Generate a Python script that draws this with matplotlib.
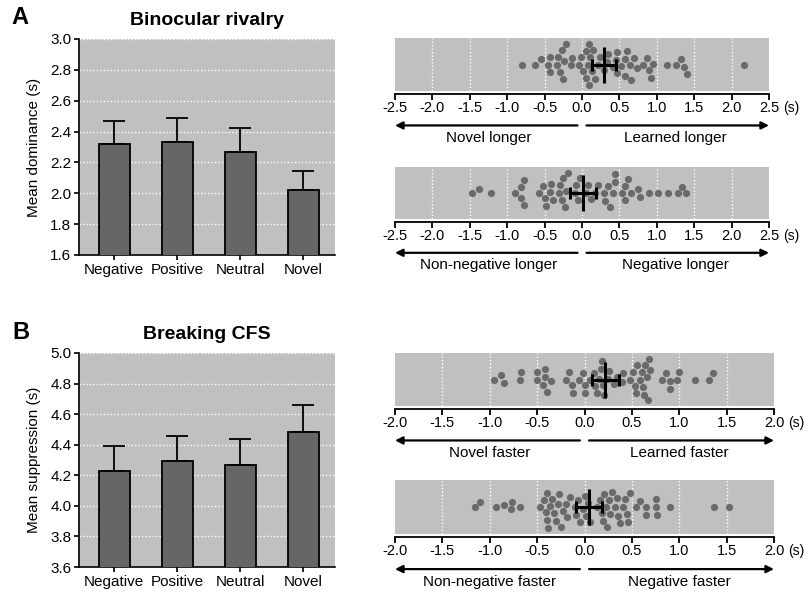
import numpy as np
import matplotlib
matplotlib.use("Agg")
import matplotlib.pyplot as plt

plt.rcParams['font.family'] = ['Liberation Sans', 'DejaVu Sans']

# ---------------- data ----------------
categories = ["Negative", "Positive", "Neutral", "Novel"]
dominance_mean = [2.32, 2.335, 2.27, 2.02]
dominance_sem = [0.15, 0.155, 0.15, 0.125]
suppression_mean = [4.225, 4.295, 4.265, 4.485]
suppression_sem = [0.165, 0.165, 0.17, 0.175]

rivalry_learned = [-0.80, -0.63, -0.55, -0.46, -0.43, -0.43, -0.33, -0.32, -0.29, -0.27,
                   -0.25, -0.24, -0.21, -0.15, -0.13, -0.04, -0.01, 0.02, 0.05, 0.06,
                   0.08, 0.09, 0.10, 0.11, 0.13, 0.15, 0.17, 0.22, 0.24, 0.30, 0.33,
                   0.35, 0.41, 0.45, 0.47, 0.47, 0.52, 0.57, 0.57, 0.60, 0.64, 0.66,
                   0.70, 0.73, 0.82, 0.87, 0.89, 0.92, 0.95, 1.13, 1.25, 1.33, 1.36,
                   1.41, 2.17]
rivalry_negative = [-1.47, -1.38, -1.21, -0.89, -0.82, -0.81, -0.77, -0.77, -0.57, -0.52,
                    -0.49, -0.48, -0.43, -0.41, -0.39, -0.31, -0.30, -0.27, -0.25, -0.23,
                    -0.21, -0.19, -0.10, -0.08, -0.06, -0.03, 0.06, 0.08, 0.12, 0.17,
                    0.21, 0.30, 0.31, 0.35, 0.38, 0.42, 0.44, 0.44, 0.54, 0.57, 0.58,
                    0.62, 0.66, 0.75, 0.78, 0.89, 1.01, 1.15, 1.28, 1.34, 1.39]
cfs_learned = [-0.95, -0.88, -0.85, -0.68, -0.67, -0.50, -0.50, -0.44, -0.42, -0.42,
               -0.40, -0.35, -0.19, -0.16, -0.13, -0.12, -0.06, -0.02, 0.00, 0.00,
               0.06, 0.10, 0.11, 0.13, 0.15, 0.17, 0.18, 0.20, 0.21, 0.25, 0.26,
               0.31, 0.34, 0.40, 0.41, 0.48, 0.51, 0.53, 0.54, 0.55, 0.59, 0.61,
               0.62, 0.63, 0.64, 0.66, 0.67, 0.68, 0.69, 0.82, 0.86, 0.90, 0.90,
               0.98, 1.00, 1.17, 1.31, 1.36]
cfs_negative = [-1.16, -1.10, -0.93, -0.85, -0.78, -0.76, -0.68, -0.47, -0.43, -0.41,
                -0.40, -0.40, -0.39, -0.36, -0.34, -0.32, -0.30, -0.28, -0.27, -0.25,
                -0.23, -0.19, -0.18, -0.15, -0.10, -0.09, -0.07, -0.05, -0.02, 0.00,
                0.02, 0.04, 0.06, 0.13, 0.16, 0.18, 0.19, 0.21, 0.23, 0.24, 0.26,
                0.27, 0.29, 0.32, 0.34, 0.35, 0.37, 0.41, 0.43, 0.45, 0.46, 0.48,
                0.54, 0.59, 0.65, 0.65, 0.75, 0.75, 0.77, 0.90, 1.37, 1.52]
diff_means = [0.29, 0.015, 0.22, 0.05]
diff_errs = [0.16, 0.175, 0.14, 0.135]

BG = '#c0c0c0'
BAR = '#666666'
DOT = '#6a6a6a'


def swarm_offsets(xpx, d, ymax):
    """simple beeswarm: place each point as close to the centre line as possible,
    but never farther than ymax from it (overlap a bit instead)"""
    xpx = np.asarray(xpx, float)
    ys = np.zeros(len(xpx))
    placed = []
    grid = np.linspace(-ymax, ymax, 41)
    for i in np.argsort(xpx):
        x = xpx[i]
        near = [(px, py) for px, py in placed if abs(px - x) < d]
        cands = [0.0]
        for px, py in near:
            dy = np.sqrt(d ** 2 - (px - x) ** 2)
            cands += [py + dy, py - dy]
        cands = [c for c in cands if abs(c) <= ymax]
        cands.sort(key=abs)
        found = False
        for c in cands:
            if all((px - x) ** 2 + (py - c) ** 2 >= d ** 2 - 1e-6 for px, py in near):
                ys[i] = c
                found = True
                break
        if not found:
            best = max(grid, key=lambda c: min((px - x) ** 2 + (py - c) ** 2
                                               for px, py in near))
            ys[i] = best
        placed.append((x, ys[i]))
    return ys


def bar_panel(ax, means, errs, ylim, ylabel, title):
    ax.set_facecolor(BG)
    x = np.arange(len(categories))
    ax.bar(x, means, width=0.5, color=BAR, edgecolor='black', linewidth=1.3, zorder=3)
    ax.errorbar(x, means, yerr=[np.zeros(len(errs)), errs], fmt='none', ecolor='black',
                elinewidth=1.3, capsize=8, capthick=1.3, zorder=2)
    ax.set_xlim(-0.56, 3.5)
    ax.set_ylim(*ylim)
    ticks = np.arange(ylim[0], ylim[1] + 0.001, 0.2)
    ax.set_yticks(ticks)
    ax.set_yticklabels(["%.1f" % t for t in ticks])
    for t in ticks[1:]:
        ax.axhline(t, color='white', linestyle=(0, (1, 1.5)), linewidth=1.0, zorder=1)
    ax.set_xticks(x)
    ax.set_xticklabels(categories)
    for s in ['top', 'right']:
        ax.spines[s].set_visible(False)
    for s in ['left', 'bottom']:
        ax.spines[s].set_linewidth(1.2)
    ax.tick_params(axis='both', labelsize=11, length=3.5, width=1.2, pad=2)
    ax.set_ylabel(ylabel, fontsize=11, labelpad=7)
    ax.set_title(title, fontsize=14, fontweight='bold', pad=10)


def swarm_panel(fig, ax, values, mean, err, lim, left_text, right_text):
    ax.set_facecolor(BG)
    bbox = ax.get_window_extent()
    w_px, h_px = bbox.width, bbox.height
    ax.set_xlim(-lim, lim)
    ax.set_ylim(-h_px / 2, h_px / 2)
    px_per_unit = w_px / (2 * lim)
    ys = swarm_offsets(np.array(values) * px_per_unit, 7.8, h_px / 2 - 6)
    ax.scatter(values, ys, s=27, color=DOT, linewidths=0, zorder=3)
    ticks = np.arange(-lim, lim + 0.001, 0.5)
    for t in ticks[1:-1]:
        ax.axvline(t, color='white', linestyle=(0, (1, 1.5)), linewidth=1.0, zorder=1)
    # mean with error
    ax.plot([mean, mean], [-18, 18], color='black', linewidth=2.2, zorder=5,
            solid_capstyle='butt')
    ax.errorbar([mean], [0], xerr=[err], fmt='none', ecolor='black', elinewidth=2.2,
                capsize=4, capthick=2.2, zorder=5)
    ax.set_xticks(ticks)
    ax.set_xticklabels(["%.1f" % t for t in ticks])
    ax.set_yticks([])
    for s in ['top', 'right', 'left']:
        ax.spines[s].set_visible(False)
    ax.spines['bottom'].set_position(('outward', 2))
    ax.spines['bottom'].set_linewidth(1.3)
    ax.tick_params(axis='x', labelsize=10.5, length=4.5, width=1.3, pad=0.5)
    # unit label sits just right of the last tick label
    y_lab = (bbox.y0 - 2 - 6.2 - 8.5) / fig.bbox.height
    fig.text((bbox.x1 + 14) / fig.bbox.width, y_lab, "(s)", fontsize=10,
             va='center', ha='left')
    ya = -0.65
    yt = -0.89
    arrow = dict(arrowstyle='-|>', linewidth=1.6, color='black', mutation_scale=11,
                 shrinkA=0, shrinkB=0)
    ax.annotate('', xy=(0.0, ya), xytext=(0.488, ya), xycoords='axes fraction',
                arrowprops=arrow, annotation_clip=False)
    ax.annotate('', xy=(1.0, ya), xytext=(0.512, ya), xycoords='axes fraction',
                arrowprops=arrow, annotation_clip=False)
    ax.text(0.25, yt, left_text, transform=ax.transAxes, ha='center', va='center',
            fontsize=11)
    ax.text(0.75, yt, right_text, transform=ax.transAxes, ha='center', va='center',
            fontsize=11)


fig = plt.figure(figsize=(8.1, 5.94), dpi=100)
W, H = 810.0, 594.0


def add_ax(x0, y0, x1, y1):
    return fig.add_axes([x0 / W, 1 - y1 / H, (x1 - x0) / W, (y1 - y0) / H])


ax_a = add_ax(79, 39, 335, 255)
bar_panel(ax_a, dominance_mean, dominance_sem, (1.6, 3.0), "Mean dominance (s)",
          "Binocular rivalry")
ax_b = add_ax(79, 353, 335, 567)
bar_panel(ax_b, suppression_mean, suppression_sem, (3.6, 5.0), "Mean suppression (s)",
          "Breaking CFS")

fig.text(20 / W, 1 - 17 / H, "A", fontsize=17, fontweight='bold', ha='center', va='center')
fig.text(21 / W, 1 - 333 / H, "B", fontsize=17, fontweight='bold', ha='center', va='center')

s1 = add_ax(395, 38, 769, 91)
swarm_panel(fig, s1, rivalry_learned, diff_means[0], diff_errs[0], 2.5,
            "Novel longer", "Learned longer")
s2 = add_ax(395, 167, 769, 219)
swarm_panel(fig, s2, rivalry_negative, diff_means[1], diff_errs[1], 2.5,
            "Non-negative longer", "Negative longer")
s3 = add_ax(395, 353, 774, 406)
swarm_panel(fig, s3, cfs_learned, diff_means[2], diff_errs[2], 2.0,
            "Novel faster", "Learned faster")
s4 = add_ax(395, 480, 774, 534)
swarm_panel(fig, s4, cfs_negative, diff_means[3], diff_errs[3], 2.0,
            "Non-negative faster", "Negative faster")

fig.savefig("out.png", dpi=100)
